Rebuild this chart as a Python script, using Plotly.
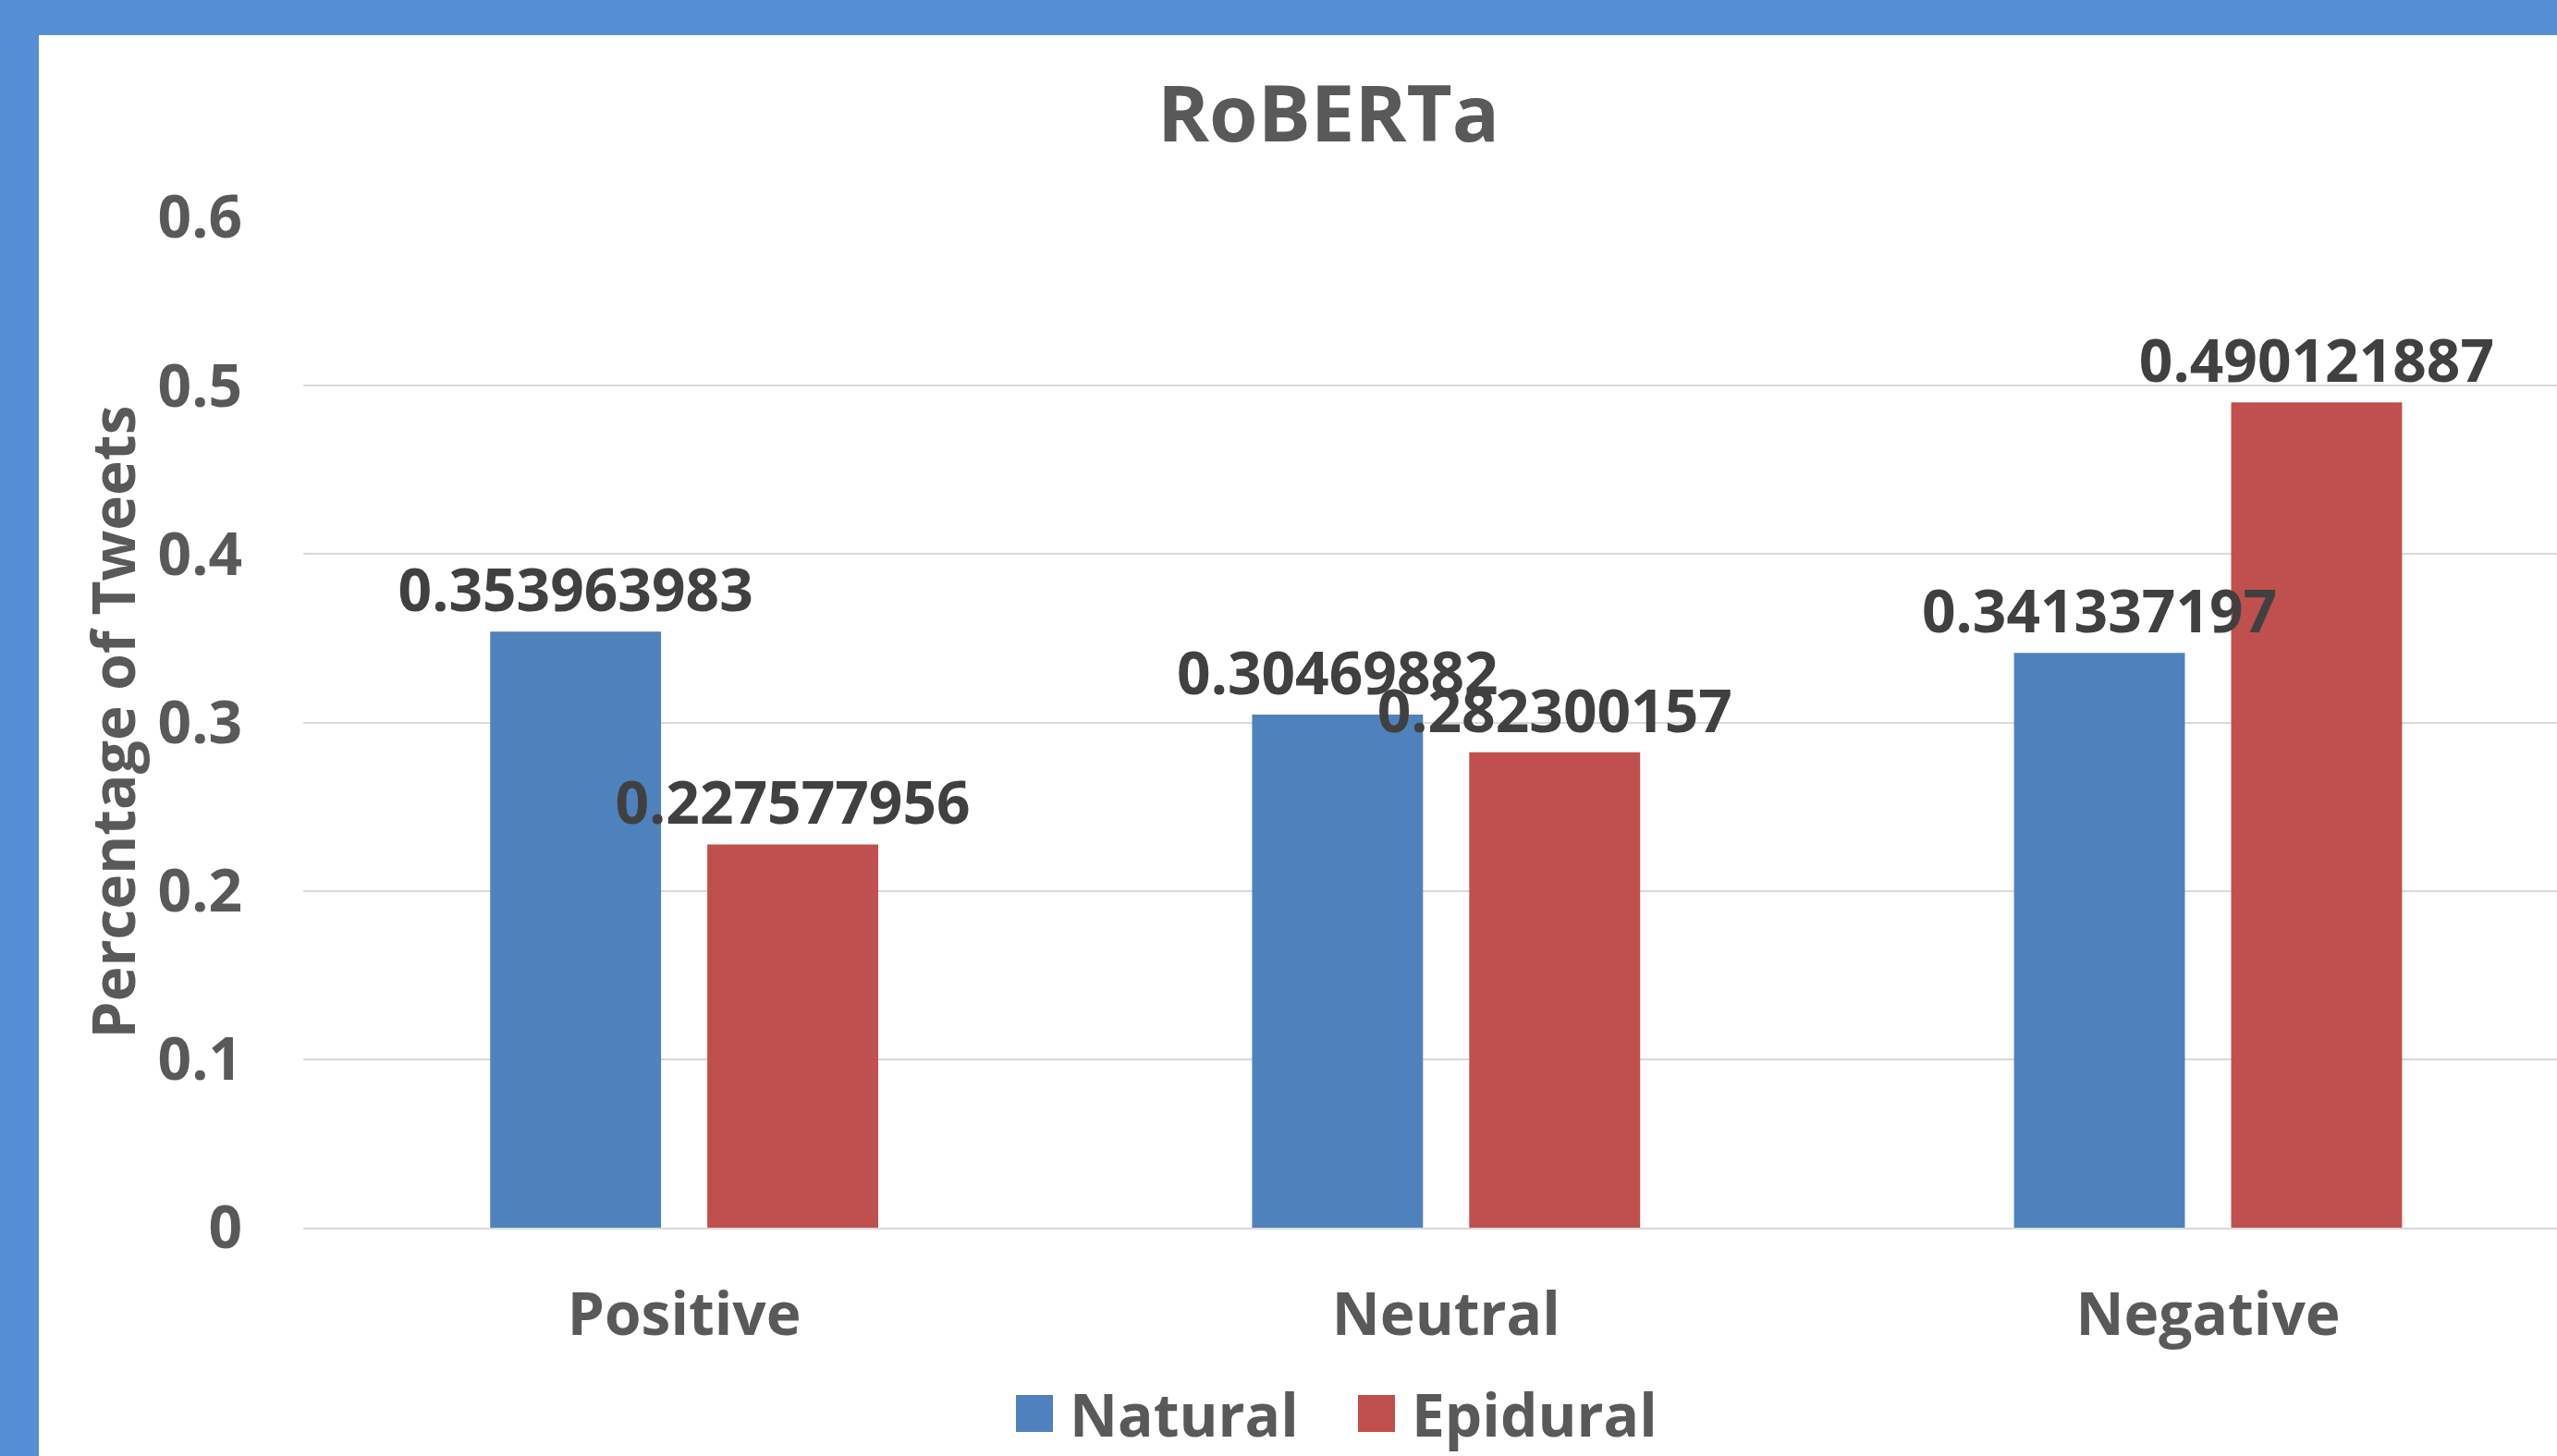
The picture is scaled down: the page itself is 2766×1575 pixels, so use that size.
import plotly.graph_objects as go

categories = ["Positive", "Neutral", "Negative"]
series_names = ["Natural", "Epidural"]
natural = [0.353963983, 0.30469882, 0.341337197]
epidural = [0.227577956, 0.282300157, 0.490121887]
y_ticks = [0, 0.1, 0.2, 0.3, 0.4, 0.5, 0.6]
title_text = "RoBERTa"
y_title = "Percentage of Tweets"

W, H = 2766, 1575
L, R, T, B = 328, 0, 235, 247
PW, PH = W - L - R, H - T - B

def px_x(px):
    return (px - L) / PW

def px_y(py):
    return (H - B - py) / PH

FONT = "Open Sans"
GRAY = "#595959"
DARK = "#404040"
colors = ["#4F81BD", "#C0504D"]
groups = ["a", "b"]

fig = go.Figure()
# Bars
for name, vals, col, g in zip(series_names, [natural, epidural], colors, groups):
    fig.add_trace(go.Bar(
        x=categories, y=vals, name=name, offsetgroup=g,
        marker=dict(color=col, line=dict(width=0)),
        showlegend=False,
    ))
# Data labels drawn on top of all bars
for name, vals, g in zip(series_names, [natural, epidural], groups):
    fig.add_trace(go.Bar(
        x=categories, y=vals, name=name + " labels", offsetgroup=g,
        marker=dict(color="rgba(0,0,0,0)", line=dict(width=14, color="rgba(0,0,0,0)")),
        text=[str(v) for v in vals],
        textposition="outside",
        constraintext="none",
        cliponaxis=False,
        textfont=dict(family=FONT, size=64, color=DARK, weight="bold"),
        hoverinfo="skip",
        showlegend=False,
    ))

fig.update_layout(
    width=W, height=H,
    margin=dict(l=L, r=R, t=T, b=B, autoexpand=False),
    paper_bgcolor="white", plot_bgcolor="white",
    barmode="group", bargap=0.43, bargroupgap=0.213,
    title=dict(text=title_text, x=1437 / W, xref="container", xanchor="center",
               y=1 - 123 / H, yref="container", yanchor="middle",
               font=dict(family=FONT, size=85, color=GRAY, weight="bold")),
    xaxis=dict(range=[-0.5, 2.458], showgrid=False, showline=True,
               linecolor="#D9D9D9", linewidth=2, ticks="",
               tickfont=dict(family=FONT, size=64, color=GRAY, weight="bold"),
               ticklabelstandoff=37),
    yaxis=dict(range=[0, 0.6], tickvals=y_ticks, ticktext=[str(v) for v in y_ticks],
               showgrid=True, gridcolor="#D9D9D9", gridwidth=2,
               zeroline=False, showline=False, ticks="",
               tickfont=dict(family=FONT, size=64, color=GRAY, weight="bold"),
               ticklabelstandoff=65),
    showlegend=False,
)

# Y axis title
fig.add_annotation(text=y_title, xref="paper", yref="paper", x=px_x(121), y=0.5,
                   textangle=-90, showarrow=False, xanchor="center", yanchor="middle",
                   font=dict(family=FONT, size=64, color=GRAY, weight="bold"))

# Legend (manual, large swatches)
leg_items = [(series_names[0], colors[0], 1099), (series_names[1], colors[1], 1469)]
for name, col, sx in leg_items:
    fig.add_shape(type="rect", xref="paper", yref="paper",
                  x0=px_x(sx), x1=px_x(sx + 40), y0=px_y(1549), y1=px_y(1509),
                  fillcolor=col, line=dict(width=0))
    fig.add_annotation(text=name, xref="paper", yref="paper", x=px_x(sx + 56), y=px_y(1529),
                       showarrow=False, xanchor="left", yanchor="middle",
                       font=dict(family=FONT, size=64, color=GRAY, weight="bold"))

# Blue frame (top and left bands)
BLUE = "#558ED5"
fig.add_shape(type="rect", xref="paper", yref="paper", layer="above",
              x0=px_x(0), x1=px_x(W + 5), y0=px_y(38), y1=px_y(-5),
              fillcolor=BLUE, line=dict(width=0))
fig.add_shape(type="rect", xref="paper", yref="paper", layer="above",
              x0=px_x(-5), x1=px_x(42), y0=px_y(H + 5), y1=px_y(-5),
              fillcolor=BLUE, line=dict(width=0))

fig.write_html("out.html", config={"displayModeBar": False},
               post_script="document.body.style.margin='0';")
